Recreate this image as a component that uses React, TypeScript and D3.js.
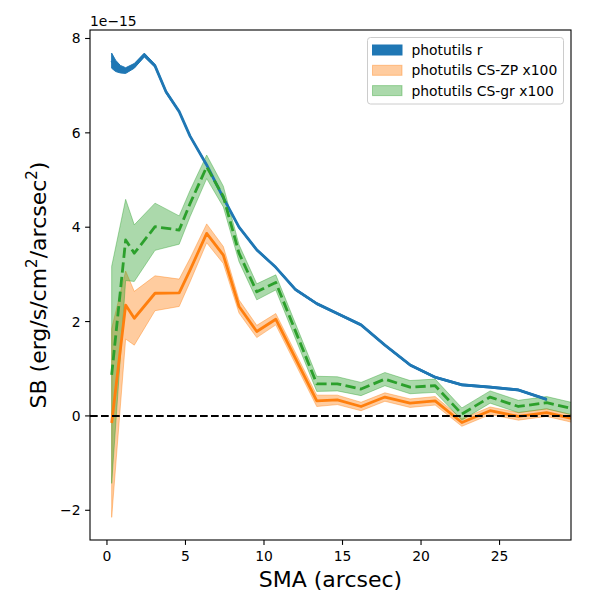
import React from 'react';
import * as d3 from 'd3';

// photutils r profile
const smaR = [0.3, 0.55, 0.85, 1.19, 1.74, 2.38, 3.06, 3.76, 4.6, 5.29, 6.35, 7.41, 8.41, 9.54, 10.75, 12.0, 13.36, 14.67, 16.18, 17.7, 19.3, 20.9, 22.6, 24.4, 26.2, 28.0];
const sbR = [7.53, 7.42, 7.35, 7.32, 7.42, 7.65, 7.42, 6.87, 6.45, 5.93, 5.32, 4.62, 4.0, 3.52, 3.15, 2.68, 2.38, 2.17, 1.93, 1.5, 1.08, 0.82, 0.66, 0.61, 0.55, 0.35];
const errR = [0.16, 0.12, 0.08, 0.06, 0.05, 0.04, 0.03, 0.03, 0.02, 0.02, 0.02, 0.02, 0.02, 0.02, 0.02, 0.02, 0.02, 0.02, 0.02, 0.02, 0.02, 0.02, 0.02, 0.02, 0.02, 0.02];

// CS profiles (x100)
const smaCS = [0.3, 1.19, 1.74, 3.06, 4.6, 5.29, 6.35, 7.41, 8.41, 9.54, 10.75, 13.36, 14.67, 16.18, 17.7, 19.3, 20.9, 22.6, 24.4, 26.2, 28.0, 29.8];
const sbZP = [-0.15, 2.35, 2.07, 2.6, 2.61, 3.09, 3.87, 3.41, 2.32, 1.79, 2.05, 0.32, 0.34, 0.2, 0.4, 0.27, 0.32, -0.14, 0.11, -0.01, 0.07, -0.07];
const errZP = [2.0, 0.72, 0.57, 0.37, 0.29, 0.25, 0.2, 0.18, 0.14, 0.13, 0.12, 0.12, 0.1, 0.09, 0.09, 0.09, 0.09, 0.08, 0.08, 0.08, 0.08, 0.08];
const sbGR = [0.87, 3.73, 3.45, 4.01, 3.94, 4.5, 5.28, 4.65, 3.45, 2.63, 2.83, 0.68, 0.68, 0.57, 0.78, 0.61, 0.64, 0.04, 0.4, 0.2, 0.28, 0.14];
const errGR = [2.3, 0.86, 0.6, 0.5, 0.3, 0.28, 0.25, 0.22, 0.18, 0.17, 0.16, 0.16, 0.15, 0.14, 0.14, 0.14, 0.14, 0.13, 0.13, 0.13, 0.13, 0.13];

const xTicks = [0, 5, 10, 15, 20, 25];
const yTicks = [-2, 0, 2, 4, 6, 8];
const legendLabels = ['photutils r', 'photutils CS-ZP x100', 'photutils CS-gr x100'];

const width = 600;
const height = 600;
const margin = { top: 30, right: 29, bottom: 60, left: 90 };

const blue = '#1f77b4';
const orange = '#ff7f0e';
const green = '#2ca02c';
const font = 'DejaVu Sans, sans-serif';

const App: React.FC = () => {
  const x = d3.scaleLinear().domain([-1.08, 29.55]).range([margin.left, width - margin.right]);
  const y = d3.scaleLinear().domain([-2.63, 8.18]).range([height - margin.bottom, margin.top]);

  const band = (xs: number[], vs: number[], es: number[]) =>
    d3.area<number>()
      .x((_, i) => x(xs[i]))
      .y0((_, i) => y(vs[i] - es[i]))
      .y1((_, i) => y(vs[i] + es[i]))(vs) || '';
  const line = (xs: number[], vs: number[]) =>
    d3.line<number>()
      .x((_, i) => x(xs[i]))
      .y((d) => y(d))(vs) || '';

  const x0 = margin.left;
  const x1 = width - margin.right;
  const y0 = margin.top;
  const y1 = height - margin.bottom;

  return (
    <svg width={width} height={height} style={{ position: 'absolute', left: 0, top: 0, background: '#fff' }} fontFamily={font}>
      <defs>
        <clipPath id="plot">
          <rect x={x0} y={y0} width={x1 - x0} height={y1 - y0} />
        </clipPath>
      </defs>
      <rect x={0} y={0} width={width} height={height} fill="#fff" />
      <g clipPath="url(#plot)">
        <path d={band(smaR, sbR, errR)} fill={blue} stroke={blue} strokeWidth={1} />
        <path d={band(smaCS, sbZP, errZP)} fill={orange} fillOpacity={0.4} stroke={orange} strokeOpacity={0.4} strokeWidth={1} />
        <path d={band(smaCS, sbGR, errGR)} fill={green} fillOpacity={0.4} stroke={green} strokeOpacity={0.4} strokeWidth={1} />
        <path d={line(smaR, sbR)} fill="none" stroke={blue} strokeWidth={2.8} strokeLinejoin="round" />
        <path d={line(smaCS, sbZP)} fill="none" stroke={orange} strokeWidth={2.8} strokeLinejoin="round" />
        <path d={line(smaCS, sbGR)} fill="none" stroke={green} strokeWidth={2.8} strokeDasharray="10.3 4.4" strokeLinejoin="round" />
        <line x1={x0} x2={x1} y1={y(0)} y2={y(0)} stroke="#000" strokeWidth={2} strokeDasharray="7.7 3.3" />
      </g>
      <rect x={x0} y={y0} width={x1 - x0} height={y1 - y0} fill="none" stroke="#000" strokeWidth={1.1} />
      {xTicks.map((t) => (
        <g key={'x' + t}>
          <line x1={x(t)} x2={x(t)} y1={y1} y2={y1 + 4.9} stroke="#000" strokeWidth={1.1} />
          <text x={x(t)} y={y1 + 21} fontSize={13.9} textAnchor="middle">{String(t)}</text>
        </g>
      ))}
      {yTicks.map((t) => (
        <g key={'y' + t}>
          <line x1={x0} x2={x0 - 4.9} y1={y(t)} y2={y(t)} stroke="#000" strokeWidth={1.1} />
          <text x={x0 - 9.5} y={y(t) + 5} fontSize={13.9} textAnchor="end">{String(t).replace('-', '\u2212')}</text>
        </g>
      ))}
      <text x={x0} y={y0 - 4} fontSize={13.9}>1e{'\u2212'}15</text>
      <text x={(x0 + x1) / 2} y={587} fontSize={22} textAnchor="middle">SMA (arcsec)</text>
      <text transform={`translate(46,${(y0 + y1) / 2}) rotate(-90)`} fontSize={22} textAnchor="middle">
        SB (erg/s/cm<tspan baselineShift="super" fontSize={15}>2</tspan>/arcsec<tspan baselineShift="super" fontSize={15}>2</tspan>)
      </text>
      <g>
        <rect x={367.5} y={37.5} width={196} height={66.5} rx={3} fill="#fff" fillOpacity={0.8} stroke="#ccc" strokeWidth={1} />
        {legendLabels.map((l, i) => {
          const cy = 50 + i * 20.3;
          const fills = [blue, orange, green];
          return (
            <g key={l}>
              <rect x={372.5} y={cy - 5} width={29.5} height={10} fill={fills[i]} fillOpacity={i === 0 ? 1 : 0.4} stroke={fills[i]} strokeOpacity={i === 0 ? 1 : 0.4} strokeWidth={1} />
              <text x={411.5} y={cy + 5} fontSize={13.9}>{l}</text>
            </g>
          );
        })}
      </g>
    </svg>
  );
};

export default App;
